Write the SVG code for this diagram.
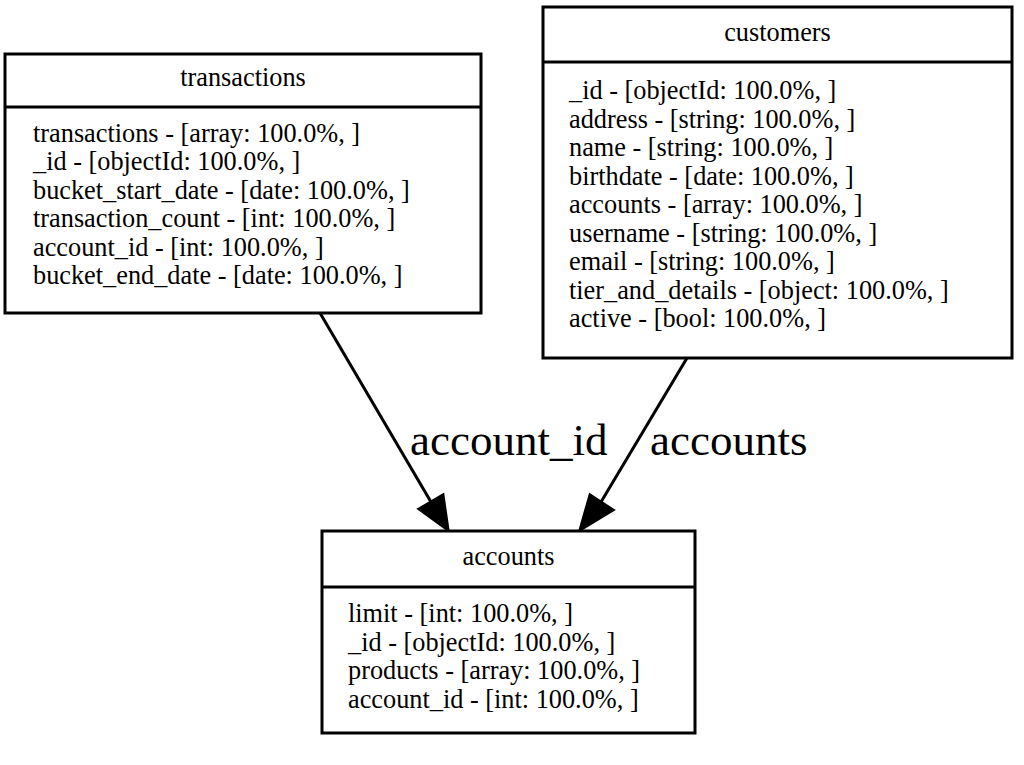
<svg xmlns="http://www.w3.org/2000/svg" width="1024" height="765" viewBox="0 0 1024 765">
<style>
.box{fill:#fff;stroke:#000;stroke-width:3}
.div{stroke:#000;stroke-width:3}
.t{font-family:"Liberation Serif","Times New Roman",serif;font-size:26.3px;fill:#000}
.title{text-anchor:middle}
.edge{fill:none;stroke:#000;stroke-width:3}
.lbl{font-family:"Liberation Serif","Times New Roman",serif;font-size:45px;fill:#000}
</style>
<rect width="1024" height="765" fill="#fff"/>
<g id="connectors">
<path class="edge" d="M320,313 L431,502"/>
<polygon points="419,509 443,495 448,530" fill="#000" stroke="#000" stroke-width="3"/>
<text class="lbl" x="410" y="455">account_id</text>
<path class="edge" d="M687,358 L601,502"/>
<polygon points="590,495 613,510 580,530" fill="#000" stroke="#000" stroke-width="3"/>
<text class="lbl" x="650" y="455">accounts</text>
</g>
<g id="transactions">
<rect class="box" x="5" y="54" width="476" height="259"/>
<line class="div" x1="5" y1="107" x2="481" y2="107"/>
<text class="t title" x="243" y="86">transactions</text>
<text class="t" x="33" y="142">transactions - [array: 100.0%, ]</text>
<text class="t" x="33" y="170.4">_id - [objectId: 100.0%, ]</text>
<text class="t" x="33" y="198.8">bucket_start_date - [date: 100.0%, ]</text>
<text class="t" x="33" y="227.2">transaction_count - [int: 100.0%, ]</text>
<text class="t" x="33" y="255.6">account_id - [int: 100.0%, ]</text>
<text class="t" x="33" y="284">bucket_end_date - [date: 100.0%, ]</text>
</g>
<g id="customers">
<rect class="box" x="543" y="7" width="469" height="351"/>
<line class="div" x1="543" y1="62" x2="1012" y2="62"/>
<text class="t title" x="777.5" y="41">customers</text>
<text class="t" x="569" y="99">_id - [objectId: 100.0%, ]</text>
<text class="t" x="569" y="127.5">address - [string: 100.0%, ]</text>
<text class="t" x="569" y="156">name - [string: 100.0%, ]</text>
<text class="t" x="569" y="184.5">birthdate - [date: 100.0%, ]</text>
<text class="t" x="569" y="213">accounts - [array: 100.0%, ]</text>
<text class="t" x="569" y="241.5">username - [string: 100.0%, ]</text>
<text class="t" x="569" y="270">email - [string: 100.0%, ]</text>
<text class="t" x="569" y="298.5">tier_and_details - [object: 100.0%, ]</text>
<text class="t" x="569" y="327">active - [bool: 100.0%, ]</text>
</g>
<g id="accounts">
<rect class="box" x="322" y="531" width="373" height="202"/>
<line class="div" x1="322" y1="587" x2="695" y2="587"/>
<text class="t title" x="508.5" y="565">accounts</text>
<text class="t" x="348" y="622">limit - [int: 100.0%, ]</text>
<text class="t" x="348" y="650.5">_id - [objectId: 100.0%, ]</text>
<text class="t" x="348" y="679">products - [array: 100.0%, ]</text>
<text class="t" x="348" y="707.5">account_id - [int: 100.0%, ]</text>
</g>
</svg>
